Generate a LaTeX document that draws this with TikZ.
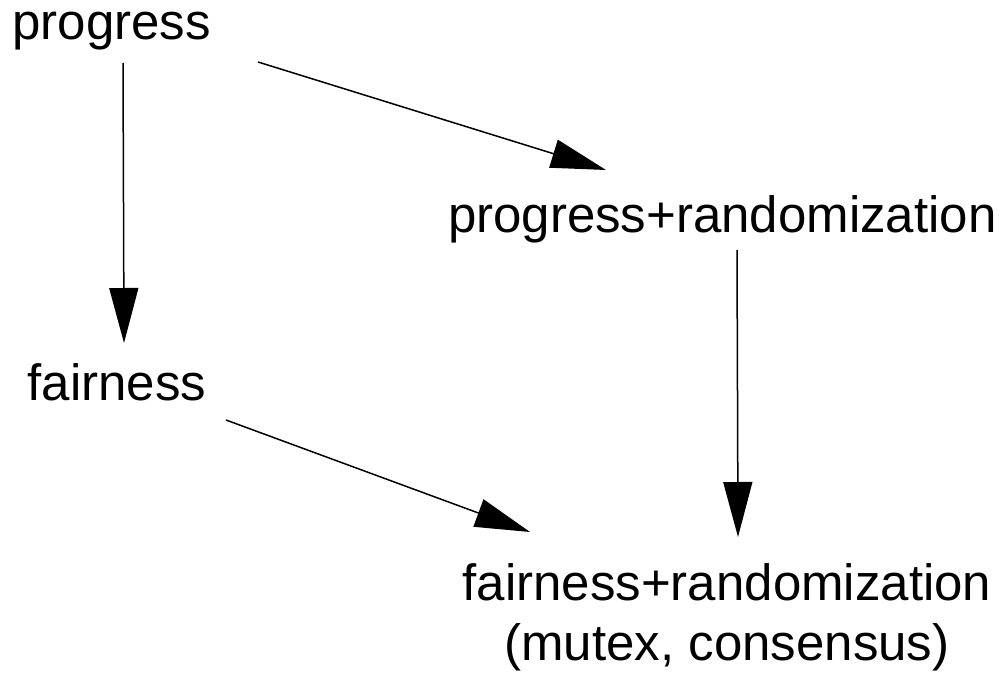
\documentclass[tikz,border=0pt]{standalone}
\usepackage{fontspec}
\setmainfont{Liberation Sans}
\usetikzlibrary{arrows.meta,calc}
\begin{document}
\begin{tikzpicture}[x=1pt,y=-1pt,
  label/.style={inner sep=0pt,outer sep=0pt,font=\fontsize{51}{60}\selectfont},
  implies/.style={line width=1.5pt,-{Triangle[length=55pt,width=29pt]}}]
\useasboundingbox (0,0) rectangle (1006,676);
% properties
\node[label,anchor=base west] (prog)  at (12.5,40)  {progress};
\node[label,anchor=base west] (prand) at (448,233)  {progress+randomization};
\node[label,anchor=base west] (fair)  at (27.5,400) {fairness};
% base anchor of a two-line node sits on the last line
\node[label,anchor=base,align=center] (frand) at (727,660)
  {fairness+randomization\\(mutex, consensus)};
% implications
\draw[implies] ($(prog.base west)+(110.5,23)$) -- ($(fair.base west)+(96.5,-57)$);
\draw[implies] ($(prog.base west)+(245.5,22)$) -- ($(prand.base west)+(158,-63)$);
\draw[implies] ($(prand.base west)+(289,17)$) -- ($(frand.base)+(11,-123)$);
\draw[implies] ($(fair.base west)+(198.5,20)$) -- ($(frand.base)+(-197,-128)$);
\end{tikzpicture}
\end{document}
